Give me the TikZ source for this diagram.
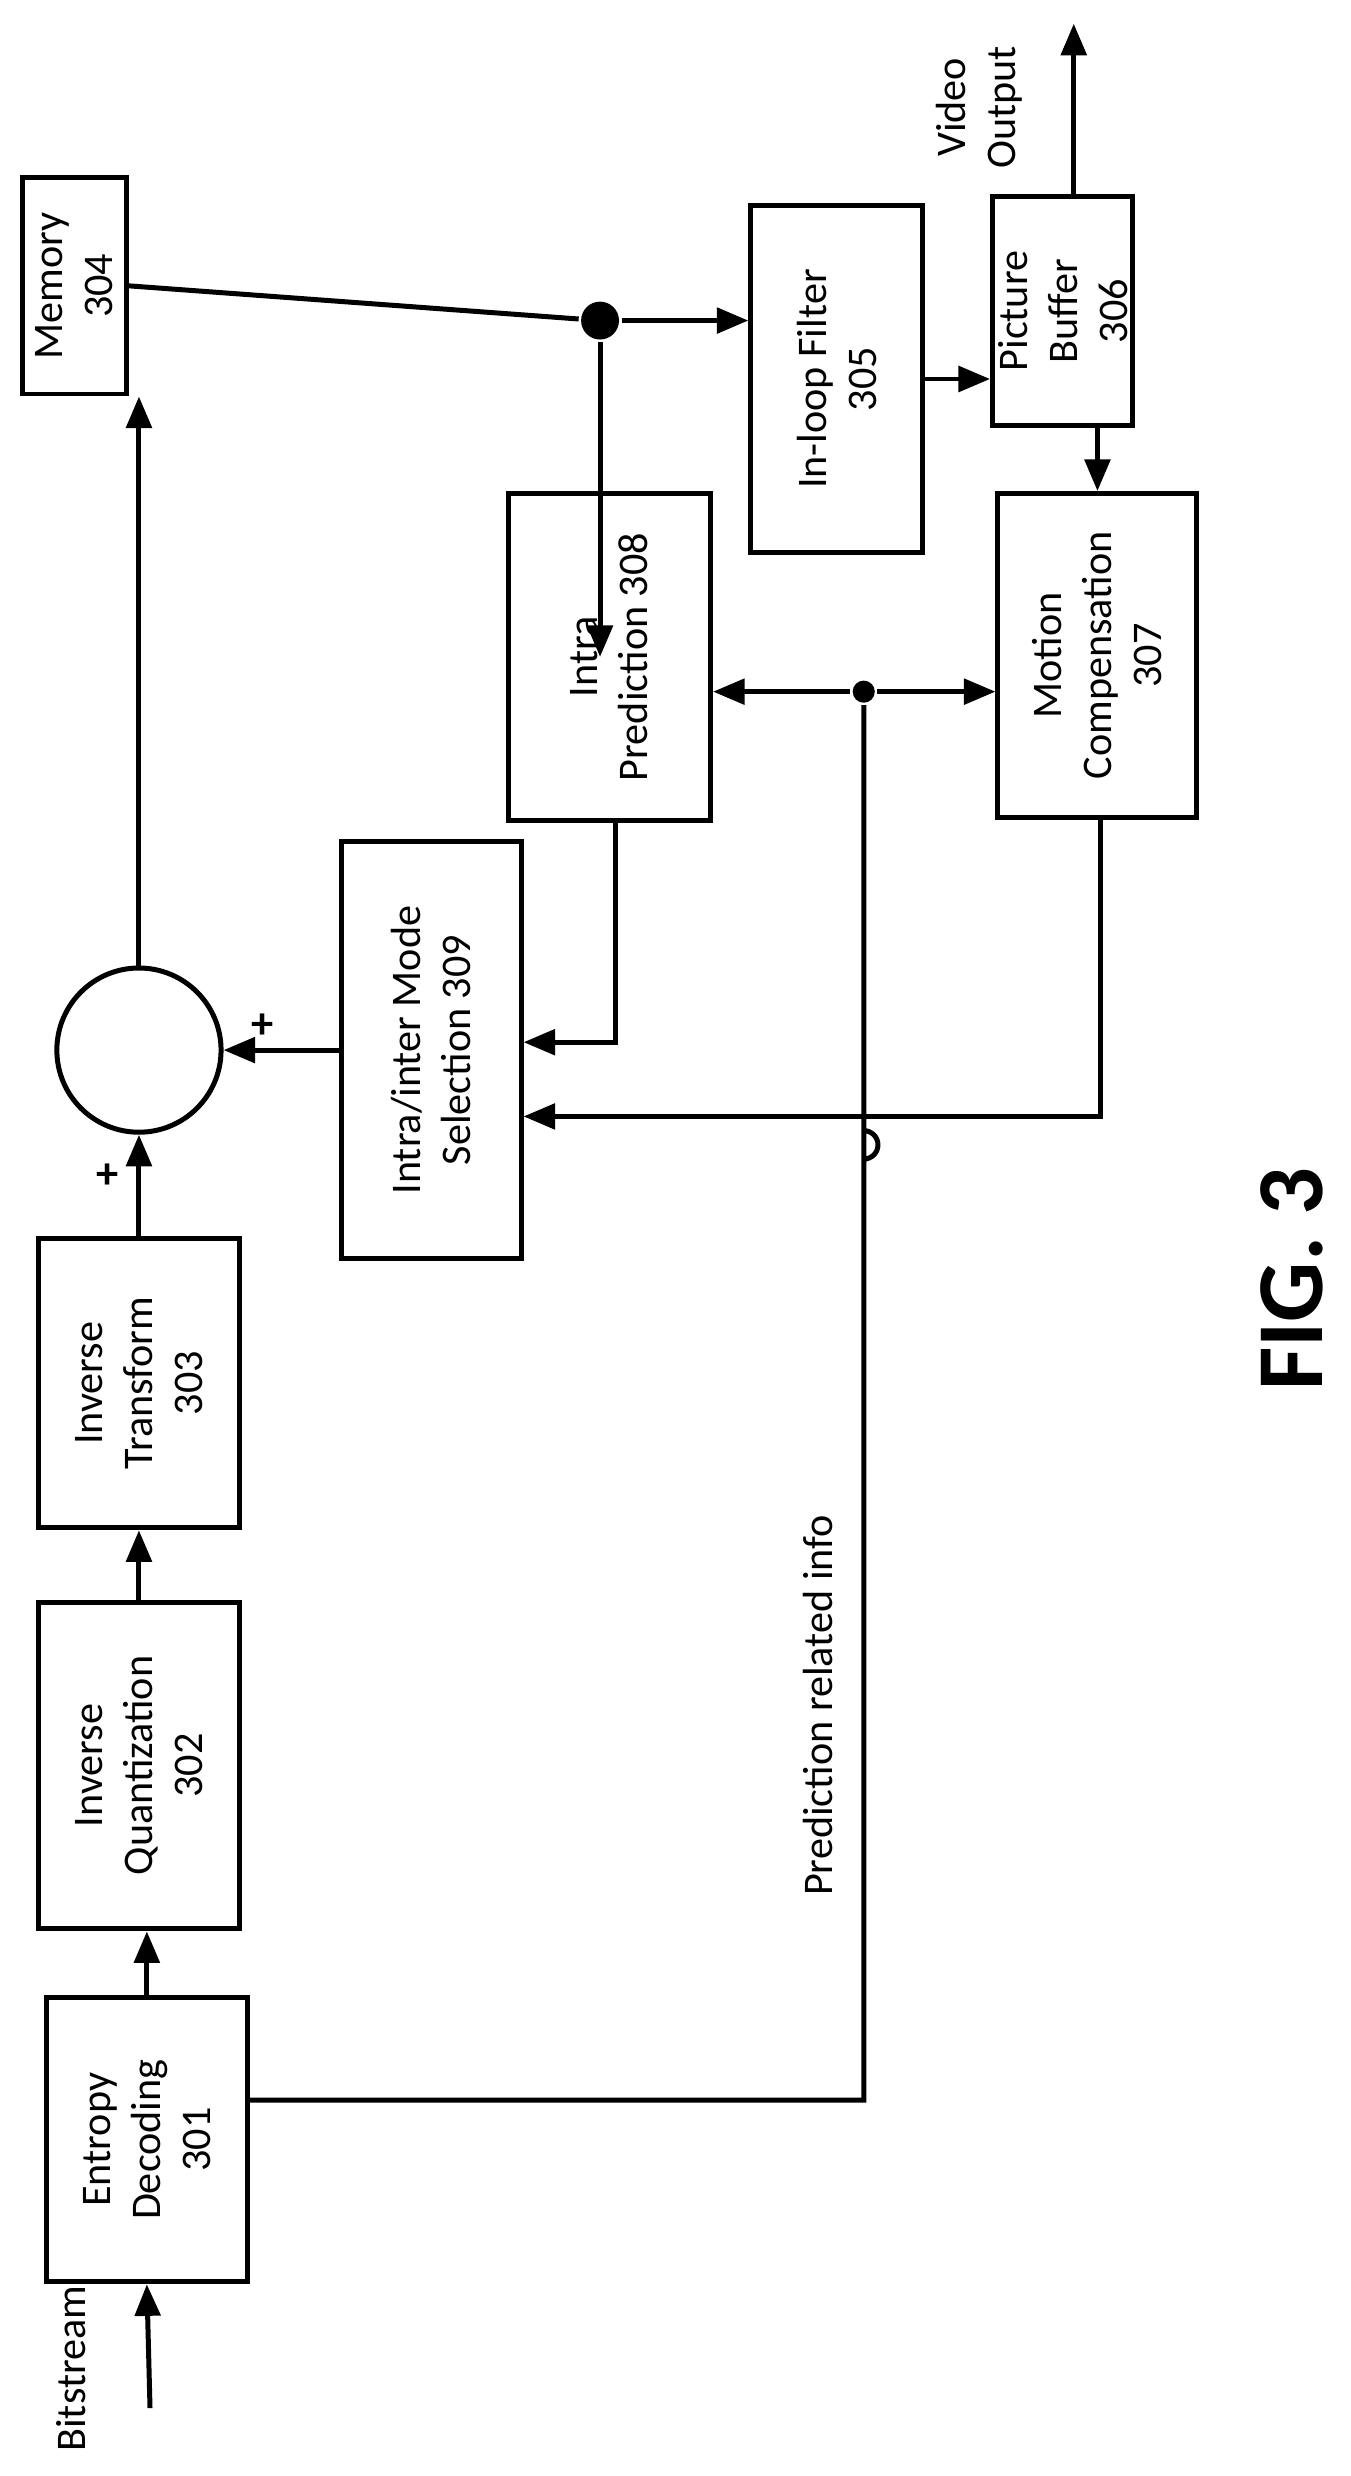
\documentclass[tikz,border=0pt]{standalone}
\usepackage{fontspec}
\setmainfont{Carlito}
\usetikzlibrary{arrows.meta}
\begin{document}
\begin{tikzpicture}[x=0.1mm,y=-0.1mm,line width=0.9pt,
  blk/.style={draw,rotate=90,align=center,inner sep=1pt,font=\fontsize{7.6}{9}\selectfont},
  lbl/.style={rotate=90,align=center,font=\fontsize{7.6}{9}\selectfont},
  arr/.style={-{Triangle[length=2mm,width=1.6mm]}},
  dot/.style={circle,fill,inner sep=0pt,minimum size=#1}]
\useasboundingbox (0,0) rectangle (855,1568);
% blocks (rotated: north = left, south = right, east = up, west = down)
\node[blk,minimum width=13.7mm,minimum height=6.6mm] (mem) at (47,181) {Memory\\304};
\node[blk,minimum width=18mm,minimum height=12.7mm] (ent) at (93,1355) {Entropy\\Decoding\\301};
\node[blk,minimum width=20.7mm,minimum height=12.7mm] (iq) at (88,1118) {Inverse\\Quantization\\302};
\node[blk,minimum width=18.3mm,minimum height=12.7mm] (it) at (88,876) {Inverse\\Transform\\303};
\node[blk,minimum width=26.4mm,minimum height=11.4mm] (mode) at (273,665) {Intra/inter Mode\\Selection 309};
\node[blk,minimum width=20.7mm,minimum height=12.8mm] (intra) at (386,416) {Intra\\Prediction 308};
\node[blk,minimum width=22mm,minimum height=10.9mm] (filt) at (530,240) {In-loop Filter\\305};
\node[blk,minimum width=14.5mm,minimum height=8.7mm] (buf) at (673,197) {Picture\\Buffer\\306};
\node[blk,minimum width=20.5mm,minimum height=12.6mm] (mc) at (695,415) {Motion\\Compensation\\307};
\node[draw,circle,minimum size=10.4mm] (add) at (88,665) {};
\node[dot=2.4mm] (j1) at (380,203) {};
\node[dot=1.4mm] (j2) at (547,438) {};
\coordinate (bin) at (95,1525);
\coordinate (vout) at (680,15);
% labels
\node[lbl] at (45,1500) {Bitstream};
\node[lbl] at (620,68) {Video\\Output};
\node[lbl] at (518,1080) {Prediction related info};
\node[lbl,font=\fontsize{17}{20}\bfseries\selectfont] at (818,810) {FIG. 3};
\node[font=\fontsize{8}{9}\bfseries\selectfont] at (166,650) {+};
\node[font=\fontsize{8}{9}\bfseries\selectfont] at (68,745) {+};
% connectors
\draw[arr] (bin) -- (ent.west);
\draw[arr] (ent.east) -- (ent.east |- iq.west);
\draw[arr] (iq.east) -- (iq.east |- it.west);
\draw[arr] (it.east) -- (add.south);
\draw[arr] (mode.north |- add.east) -- (add.east);
\draw[arr] (add.north) -- (mem.west -| add.north);
\draw (mem.south) -- (j1);
\draw[arr] (j1) -- (filt.north |- j1);
\draw[arr] (j1) -- (intra.north -| j1);
\draw[arr] (filt.south) -- (buf.north |- filt.south);
\draw[arr] (buf.west -| mc.east) -- (mc.east);
\draw[arr] (buf.east -| vout) -- (vout);
\draw[arr] (j2) -- (intra.south |- j2);
\draw[arr] (j2) -- (mc.north |- j2);
\draw[arr] (390,520) |- (mode.south |- 0,660);
\draw[arr] (697,518) |- (mode.south |- 0,707);
\draw (ent.south |- 0,1330) -| (547,716) arc[start angle=-90,end angle=90,radius=9] -- (j2);
\end{tikzpicture}
\end{document}
